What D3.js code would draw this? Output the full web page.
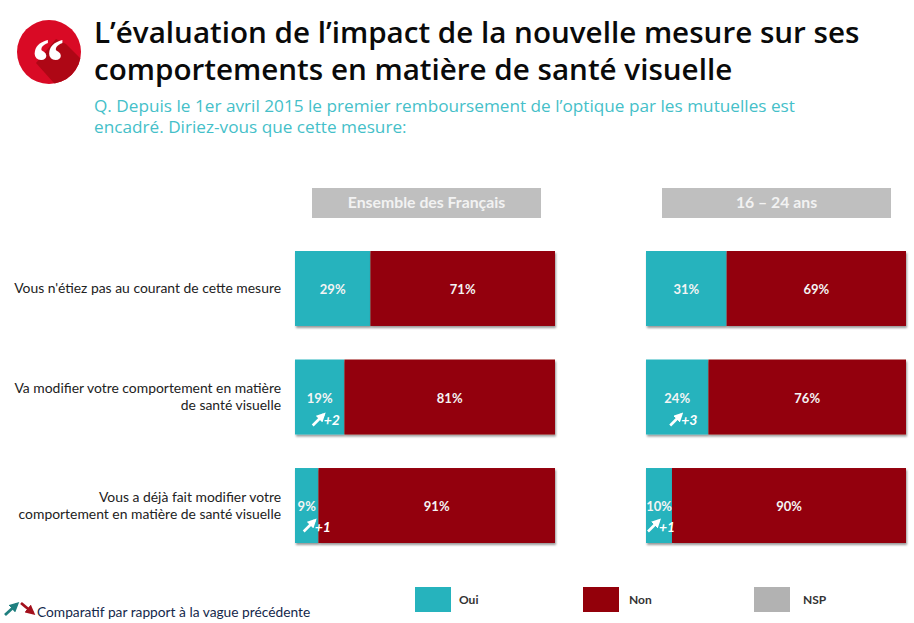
<!DOCTYPE html>
<html lang="fr"><head><meta charset="utf-8">
<script src="https://cdn.jsdelivr.net/npm/d3@7/dist/d3.min.js"></script>
<style>html,body{margin:0;padding:0;background:#fff}svg{display:block}</style>
</head><body><div id="c"></div>
<script>
const titleLines = ["L’évaluation de l’impact de la nouvelle mesure sur ses","comportements en matière de santé visuelle"];
const questionLines = ["Q. Depuis le 1er avril 2015 le premier remboursement de l’optique par les mutuelles est","encadré. Diriez-vous que cette mesure:"];
const panels = ["Ensemble des Français","16 – 24 ans"];
const rowKeys = ["courant","modifier","deja"];
const rowLabels = [["Vous n'étiez pas au courant de cette mesure"],["Va modifier votre comportement en matière","de santé visuelle"],["Vous a déjà fait modifier votre","comportement en matière de santé visuelle"]];
const ouiEnsemble = [29,19,9];
const nonEnsemble = [71,81,91];
const ouiJeunes = [31,24,10];
const nonJeunes = [69,76,90];
const deltaEnsemble = ["","+2","+1"];
const deltaJeunes = ["","+3","+1"];
const legendLabels = ["Oui","Non","NSP"];
const legendColors = ["#26b3bd","#93000a","#b2b2b2"];
const footnote = "Comparatif par rapport à la vague précédente";

const W=914,H=623,lato="Lato, Carlito, sans-serif";
const svg=d3.select("#c").append("svg").attr("width",W).attr("height",H).attr("viewBox",[0,0,W,H]);
const defs=svg.append("defs");
const f=defs.append("filter").attr("id","sh").attr("x","-5%").attr("y","-5%").attr("width","110%").attr("height","115%");
f.append("feDropShadow").attr("dx",1).attr("dy",2).attr("stdDeviation",1.2).attr("flood-color","#000").attr("flood-opacity",.4);
defs.append("marker").attr("id","aw").attr("viewBox","0 0 10 10").attr("refX",7).attr("refY",5).attr("markerWidth",3.6).attr("markerHeight",3.6).attr("orient","auto")
  .append("path").attr("d","M0,0L10,5L0,10Z").attr("fill","context-stroke");
defs.append("clipPath").attr("id","ic").append("circle").attr("cx",49).attr("cy",52).attr("r",32);

// icon
svg.append("circle").attr("cx",49).attr("cy",52).attr("r",32).attr("fill","#d90a25");
svg.append("path").attr("clip-path","url(#ic)").attr("d","M56,39L66,44L90,68L62,92L36,63Z").attr("fill","#ae0715");
svg.append("text").attr("x",48).attr("y",84).attr("text-anchor","middle").attr("font-family","'Liberation Serif',serif").attr("font-weight",700).attr("font-size",66).attr("fill","#fff").text("“");

// heading
svg.append("g").selectAll("text").data(titleLines).join("text").attr("x",94).attr("y",(d,i)=>42.5+i*37)
  .attr("font-family","'Open Sans',sans-serif").attr("font-weight",600).attr("font-size",29.6).attr("fill","#0a0a0a").text(d=>d);
svg.append("text").attr("font-family","'Open Sans',sans-serif").attr("font-size",17.2).attr("fill","#45bfc9")
  .selectAll("tspan").data(questionLines).join("tspan").attr("x",94).attr("y",(d,i)=>112+i*20.5).text(d=>d);

// scales
const y=d3.scaleBand().domain(rowKeys).range([251,543]).paddingInner(.309).paddingOuter(0);
const x0=d3.scaleLinear().domain([0,100]).range([295,555]);
const x1=d3.scaleLinear().domain([0,100]).range([646,906]);
const stack=d3.stack().keys(["oui","non"]);

// arrow nudges relative to the centre of the Oui segment, by row
function panel(x,oui,non,delta,title,hx,nudge){
  const rows=rowKeys.map((k,i)=>({k,oui:oui[i],non:non[i],delta:delta[i],dx:nudge[i],dy:i==2?-2.5:0}));
  const g=svg.append("g");
  g.append("rect").attr("x",hx).attr("y",188).attr("width",229).attr("height",30).attr("fill","#bfbfbf");
  g.append("text").attr("x",hx+114.5).attr("y",208).attr("text-anchor","middle").attr("font-family",lato).attr("font-weight",700).attr("font-size",15.8).attr("fill","#f2f2f2").text(title);
  const series=stack(rows);
  g.selectAll("g.s").data(series).join("g").attr("class","s").attr("fill",(d,i)=>legendColors[i]).attr("filter","url(#sh)")
    .selectAll("rect").data(d=>d).join("rect")
    .attr("x",d=>x(d[0])).attr("width",d=>x(d[1])-x(d[0])).attr("y",d=>y(d.data.k)).attr("height",y.bandwidth());
  series.forEach(s=>{
    g.append("g").selectAll("text").data(s).join("text")
      .attr("x",d=>(x(d[0])+x(d[1]))/2)
      .attr("y",d=>y(d.data.k)+y.bandwidth()/2+5.5)
      .attr("text-anchor","middle").attr("font-family",lato).attr("font-weight",700).attr("font-size",13).attr("fill","#f4f4f4")
      .text(d=>d[1]-d[0]+"%");
  });
  const dg=g.append("g").selectAll("g").data(rows.filter(r=>r.delta)).join("g")
    .attr("transform",r=>`translate(${x(r.oui/2)+r.dx},${y(r.k)+y.bandwidth()+r.dy})`);
  dg.append("line").attr("x1",-6).attr("y1",-9).attr("x2",5).attr("y2",-20).attr("stroke","#fff").attr("stroke-width",2.6).attr("marker-end","url(#aw)");
  dg.append("text").attr("x",5).attr("y",-9).attr("font-family",lato).attr("font-weight",700).attr("font-style","italic").attr("font-size",14).attr("fill","#fff").text(r=>r.delta);
}
panel(x0,ouiEnsemble,nonEnsemble,deltaEnsemble,panels[0],312,[0,-1,3]);
panel(x1,ouiJeunes,nonJeunes,deltaJeunes,panels[1],662,[0,-1,-5]);

// row labels
const lab=svg.append("g").selectAll("text").data(rowKeys).join("text").attr("text-anchor","end")
  .attr("font-family",lato).attr("font-size",13.9).attr("fill","#222");
lab.each(function(k,i){
  const L=rowLabels[i],cy=y(k)+y.bandwidth()/2;
  d3.select(this).selectAll("tspan").data(L).join("tspan").attr("x",281)
    .attr("y",(d,j)=>cy+4.5-(L.length-1)*8.5+j*17).text(d=>d);
});

// legend
const lx=d3.scaleOrdinal().domain(legendLabels).range([415,583,754]);
const lg=svg.append("g").selectAll("g").data(legendLabels).join("g").attr("transform",d=>`translate(${lx(d)},587)`);
lg.append("rect").attr("width",36).attr("height",25).attr("fill",(d,i)=>legendColors[i]);
lg.append("text").attr("x",(d,i)=>[44,46,49][i]).attr("y",17).attr("font-family",lato).attr("font-weight",700).attr("font-size",12).attr("fill","#333").text(d=>d);

// footnote
svg.append("line").attr("x1",5).attr("y1",615).attr("x2",17).attr("y2",604).attr("stroke","#1f7f7f").attr("stroke-width",2.8).attr("marker-end","url(#aw)");
svg.append("line").attr("x1",21).attr("y1",603).attr("x2",33).attr("y2",613).attr("stroke","#a3101c").attr("stroke-width",2.8).attr("marker-end","url(#aw)");
svg.append("text").attr("x",37).attr("y",617).attr("font-family",lato).attr("font-size",13.75).attr("fill","#14284b").text(footnote);
</script></body></html>
